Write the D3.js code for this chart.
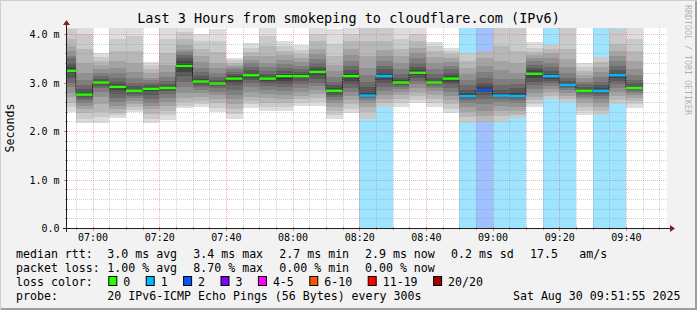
<!DOCTYPE html>
<html>
<head>
<meta charset="utf-8">
<script src="https://cdn.jsdelivr.net/npm/d3@7"></script>
<style>
  html, body { margin: 0; padding: 0; background: #f2f2f2; }
  svg { display: block; }
  text { font-family: "DejaVu Sans Mono", monospace; fill: #000; }
</style>
</head>
<body>
<div id="chart"></div>
<script>
// ---- data ----
const day = "2025-08-30";
const barStarts = ["06:50","06:55","07:00","07:05","07:10","07:15","07:20","07:25","07:30","07:35",
                   "07:40","07:45","07:50","07:55","08:00","08:05","08:10","08:15","08:20","08:25",
                   "08:30","08:35","08:40","08:45","08:50","08:55","09:00","09:05","09:10","09:15",
                   "09:20","09:25","09:30","09:35","09:40"];
const medians = [3.24,2.75,3.00,2.91,2.83,2.87,2.89,3.34,3.02,2.98,
                 3.08,3.15,3.08,3.13,3.13,3.22,2.83,3.13,2.73,3.13,
                 3.00,3.20,3.00,3.08,2.72,2.84,2.73,2.72,3.18,3.13,
                 2.95,2.83,2.83,3.15,2.89];
const lossCounts = [0,0,0,0,0,0,0,0,0,0,
                    0,0,0,0,0,0,0,0,1,1,
                    0,0,0,0,1,2,1,1,0,1,
                    1,0,1,1,0];
// 20 sorted pings per 5 minute step (ms), lost pings as null
const pings = [
  [2.39,2.5,2.58,2.7,2.79,2.9,3.0,3.1,3.18,3.22,3.26,3.31,3.4,3.5,3.55,3.65,3.75,3.9,4.1,4.3],
  [2.16,2.25,2.38,2.45,2.52,2.58,2.64,2.68,2.72,2.74,2.76,2.8,2.86,2.95,3.05,3.2,3.41,3.7,4.0,4.3],
  [2.17,2.28,2.4,2.55,2.7,2.8,2.88,2.93,2.97,2.99,3.01,3.04,3.08,3.13,3.2,3.28,3.36,3.44,3.52,3.6],
  [2.26,2.32,2.38,2.45,2.52,2.6,2.68,2.76,2.84,2.89,2.93,2.97,3.02,3.1,3.2,3.3,3.44,3.65,3.9,4.2],
  [2.39,2.44,2.5,2.56,2.62,2.68,2.73,2.77,2.8,2.82,2.84,2.87,2.92,3.0,3.1,3.22,3.41,3.65,3.95,4.2],
  [2.16,2.25,2.35,2.45,2.52,2.58,2.66,2.74,2.82,2.86,2.88,2.91,2.95,3.0,3.05,3.1,3.2,3.28,3.36,3.43],
  [2.23,2.32,2.42,2.52,2.6,2.68,2.76,2.82,2.86,2.88,2.9,2.93,2.97,3.04,3.12,3.22,3.37,3.6,3.9,4.2],
  [2.47,2.52,2.6,2.68,2.78,2.9,3.02,3.13,3.22,3.3,3.38,3.44,3.5,3.56,3.62,3.67,3.78,3.9,4.05,4.2],
  [2.5,2.55,2.62,2.7,2.78,2.85,2.9,2.95,2.98,3.0,3.04,3.08,3.14,3.22,3.3,3.42,3.55,3.7,3.85,4.01],
  [2.39,2.48,2.57,2.66,2.74,2.81,2.88,2.93,2.96,2.97,2.99,3.02,3.06,3.12,3.2,3.3,3.41,3.62,3.85,4.1],
  [2.25,2.35,2.45,2.55,2.65,2.75,2.85,2.95,3.02,3.06,3.1,3.14,3.18,3.22,3.27,3.32,3.36,3.41,3.46,3.51],
  [2.48,2.55,2.62,2.7,2.8,2.9,2.98,3.05,3.1,3.13,3.17,3.2,3.25,3.32,3.4,3.47,3.55,3.63,3.72,3.81],
  [2.41,2.5,2.58,2.68,2.76,2.84,2.92,2.98,3.04,3.07,3.09,3.12,3.17,3.24,3.32,3.41,3.55,3.75,3.95,4.2],
  [2.42,2.5,2.58,2.66,2.74,2.82,2.9,2.97,3.03,3.08,3.14,3.18,3.24,3.3,3.38,3.46,3.56,3.66,3.76,3.85],
  [2.52,2.58,2.65,2.72,2.8,2.88,2.96,3.03,3.09,3.12,3.14,3.17,3.22,3.28,3.35,3.43,3.51,3.58,3.67,3.77],
  [2.52,2.6,2.68,2.76,2.84,2.92,3.0,3.08,3.15,3.2,3.24,3.28,3.33,3.4,3.48,3.58,3.7,3.85,4.0,4.2],
  [2.25,2.34,2.42,2.5,2.57,2.64,2.7,2.75,2.79,2.82,2.84,2.88,2.94,3.02,3.12,3.24,3.36,3.55,3.8,4.1],
  [2.38,2.46,2.55,2.64,2.72,2.8,2.88,2.96,3.04,3.1,3.15,3.2,3.26,3.34,3.44,3.56,3.7,3.85,4.0,4.2],
  [2.2,2.24,2.4,2.5,2.58,2.64,2.68,2.7,2.72,2.73,2.75,2.8,2.9,3.02,3.15,3.3,3.55,3.85,4.2,null],
  [2.45,2.49,2.58,2.66,2.74,2.82,2.9,2.98,3.06,3.12,3.15,3.2,3.27,3.35,3.45,3.55,3.68,3.85,4.2,null],
  [2.5,2.58,2.66,2.74,2.8,2.86,2.91,2.95,2.98,2.99,3.01,3.05,3.1,3.18,3.28,3.41,3.55,3.7,3.9,4.2],
  [2.57,2.64,2.72,2.8,2.88,2.96,3.04,3.1,3.15,3.18,3.22,3.26,3.32,3.4,3.5,3.6,3.72,3.85,4.0,4.2],
  [2.5,2.58,2.66,2.74,2.82,2.88,2.93,2.96,2.98,2.99,3.01,3.04,3.1,3.18,3.28,3.4,3.52,3.65,3.75,3.84],
  [2.38,2.46,2.55,2.64,2.72,2.8,2.88,2.96,3.02,3.06,3.1,3.14,3.2,3.27,3.34,3.42,3.5,3.58,3.65,3.72],
  [2.1,2.17,2.28,2.4,2.5,2.58,2.64,2.68,2.7,2.71,2.73,2.78,2.85,2.95,3.05,3.18,3.3,3.45,3.6,null],
  [2.1,2.15,2.19,2.3,2.42,2.55,2.66,2.75,2.8,2.83,2.86,2.92,3.0,3.1,3.22,3.35,3.5,3.65,null,null],
  [2.1,2.19,2.3,2.42,2.52,2.6,2.66,2.7,2.72,2.73,2.74,2.78,2.85,2.95,3.08,3.25,3.45,3.75,4.2,null],
  [2.2,2.26,2.34,2.42,2.5,2.58,2.64,2.68,2.7,2.72,2.74,2.8,2.88,2.97,3.07,3.2,3.4,3.65,4.2,null],
  [2.5,2.56,2.63,2.7,2.78,2.86,2.94,3.02,3.1,3.16,3.2,3.25,3.3,3.37,3.44,3.5,3.56,3.63,3.72,3.84],
  [2.6,2.65,2.72,2.8,2.86,2.92,2.98,3.03,3.08,3.12,3.14,3.18,3.24,3.32,3.4,3.5,3.6,3.7,3.77,null],
  [2.55,2.6,2.66,2.72,2.78,2.84,2.88,2.91,2.93,2.94,2.96,2.99,3.04,3.1,3.2,3.32,3.48,3.7,4.2,null],
  [2.34,2.42,2.5,2.58,2.65,2.7,2.74,2.78,2.8,2.82,2.84,2.87,2.91,2.96,3.02,3.09,3.16,3.23,3.32,3.41],
  [2.28,2.33,2.42,2.5,2.58,2.65,2.72,2.77,2.8,2.82,2.84,2.88,2.94,3.02,3.12,3.22,3.32,3.42,3.52,null],
  [2.5,2.56,2.64,2.72,2.8,2.88,2.96,3.04,3.1,3.14,3.16,3.2,3.26,3.34,3.44,3.54,3.65,3.8,4.1,null],
  [2.48,2.55,2.62,2.68,2.74,2.79,2.83,2.86,2.88,2.89,2.9,2.93,2.98,3.05,3.15,3.28,3.45,3.65,3.9,4.15]
];

const lossLabels = ["0","1","2","3","4-5","6-10","11-19","20/20"];
const lossColors = ["#26ff00","#00b8ff","#0059ff","#7e00ff","#ff00ff","#ff5500","#ff0000","#a10000"];
const lossUpper  = [0,1,2,3,5,10,19,20];

const yTicks = [0,1,2,3,4];
const yTickLabels = ["0.0","1.0 m","2.0 m","3.0 m","4.0 m"];
const xTickLabels = ["07:00","07:20","07:40","08:00","08:20","08:40","09:00","09:20","09:40"];

const rttStats  = ["3.0 ms avg","3.4 ms max","2.7 ms min","2.9 ms now","0.2 ms sd"];
const lossStats = ["1.00 % avg","8.70 % max","0.00 % min","0.00 % now"];
const amsValue = "17.5", amsUnit = "am/s";
const titleText = "Last 3 Hours from smokeping to cloudflare.com (IPv6)";
const probeText = "20 IPv6-ICMP Echo Pings (56 Bytes) every 300s";
const stampText = "Sat Aug 30 09:51:55 2025";
const graphStart = "06:52:20", graphEnd = "09:52:20";

// ---- layout ----
const W = 697, H = 310;
const plot = { left: 67, right: 667, top: 28, bottom: 228 };
const legendFont = 11.6, axisFont = 10, titleFont = 13.5;

const parse = d3.timeParse("%Y-%m-%d %H:%M:%S");
const t = s => parse(`${day} ${s.length === 5 ? s + ":00" : s}`);

const x = d3.scaleTime()
  .domain([t(graphStart), t(graphEnd)])
  .range([plot.left, plot.right]);
const y = d3.scaleLinear()
  .domain([0, 4.124])
  .range([plot.bottom, plot.top]);

const step = 5 * 60 * 1000;
const bars = barStarts.map((s, i) => {
  const t0 = t(s);
  return { t0, t1: new Date(+t0 + step), median: medians[i], loss: lossCounts[i], pings: pings[i] };
});
const lossIndex = n => lossUpper.findIndex(u => n <= u);

const svg = d3.select("#chart").append("svg")
  .attr("width", W).attr("height", H);

// background + shaded frame
svg.append("rect").attr("width", W).attr("height", H).attr("fill", "#f2f2f2");
svg.append("path").attr("d", `M0,${H} V0 H${W}`).attr("fill", "none")
  .attr("stroke", "#cfcfcf").attr("stroke-width", 2);
svg.append("path").attr("d", `M1,${H - 1} H${W - 1} V1`).attr("fill", "none")
  .attr("stroke", "#9e9e9e").attr("stroke-width", 2);

svg.append("defs").append("clipPath").attr("id", "plotclip")
  .append("rect").attr("x", plot.left).attr("y", plot.top)
  .attr("width", plot.right - plot.left).attr("height", plot.bottom - plot.top);

// canvas
svg.append("rect")
  .attr("x", plot.left).attr("y", plot.top)
  .attr("width", plot.right - plot.left).attr("height", plot.bottom - plot.top)
  .attr("fill", "#fff");

const plotG = svg.append("g").attr("clip-path", "url(#plotclip)");

// loss background columns
plotG.append("g").selectAll("rect")
  .data(bars.filter(b => b.loss > 0))
  .join("rect")
    .attr("x", d => x(d.t0)).attr("width", d => x(d.t1) - x(d.t0))
    .attr("y", plot.top).attr("height", plot.bottom - plot.top)
    .attr("fill", d => lossColors[lossIndex(d.loss)])
    .attr("fill-opacity", 0.376)
    .attr("shape-rendering", "crispEdges");

// smoke: layer k spans ping k .. ping 21-k
const half = 10;
const smokeG = plotG.append("g").attr("shape-rendering", "crispEdges");
bars.forEach(b => {
  for (let k = 1; k <= half; k++) {
    const lo = b.pings[k - 1], hi = b.pings[20 - k];
    if (lo == null || hi == null) continue;
    const c = Math.floor(190 / half * (half - k)) + 50;
    smokeG.append("rect")
      .attr("x", x(b.t0)).attr("width", x(b.t1) - x(b.t0))
      .attr("y", y(hi)).attr("height", y(lo) - y(hi))
      .attr("fill", d3.rgb(c, c, c));
  }
});

// grid
const gridG = svg.append("g");
const minorTimes = d3.timeMinute.every(5).range(t(graphStart), t(graphEnd));
const majorSet = new Set(xTickLabels);
const fmt = d3.timeFormat("%H:%M");
gridG.selectAll(".vminor")
  .data(minorTimes.filter(d => !majorSet.has(fmt(d))))
  .join("line")
    .attr("x1", d => Math.round(x(d)) + 0.5).attr("x2", d => Math.round(x(d)) + 0.5)
    .attr("y1", plot.top).attr("y2", plot.bottom)
    .attr("stroke", "rgba(143,143,143,0.42)").attr("stroke-dasharray", "1,1");
const yMinor = d3.range(1, 21).map(i => i * 0.2).filter(v => Math.abs(v - Math.round(v)) > 1e-6);
gridG.selectAll(".hminor")
  .data(yMinor)
  .join("line")
    .attr("x1", plot.left).attr("x2", plot.right)
    .attr("y1", d => Math.round(y(d)) + 0.5).attr("y2", d => Math.round(y(d)) + 0.5)
    .attr("stroke", "rgba(143,143,143,0.42)").attr("stroke-dasharray", "1,1");
const xMajorTimes = xTickLabels.map(s => t(s));
gridG.selectAll(".vmajor")
  .data(xMajorTimes)
  .join("line")
    .attr("x1", d => Math.round(x(d)) + 0.5).attr("x2", d => Math.round(x(d)) + 0.5)
    .attr("y1", plot.top).attr("y2", plot.bottom)
    .attr("stroke", "rgba(222,79,79,0.42)").attr("stroke-dasharray", "1,1");
gridG.selectAll(".hmajor")
  .data(yTicks.filter(v => v > 0))
  .join("line")
    .attr("x1", plot.left).attr("x2", plot.right)
    .attr("y1", d => Math.round(y(d)) + 0.5).attr("y2", d => Math.round(y(d)) + 0.5)
    .attr("stroke", "rgba(222,79,79,0.42)").attr("stroke-dasharray", "1,1");

// median: dotted step connector then loss-coloured bands
const stepPts = bars.map(b => [b.t0, b.median]).concat([[bars[bars.length - 1].t1, medians[medians.length - 1]]]);
plotG.append("path")
  .datum(stepPts)
  .attr("d", d3.line().x(d => x(d[0])).y(d => y(d[1])).curve(d3.curveStepAfter))
  .attr("fill", "none").attr("stroke", "#000").attr("stroke-width", 1)
  .attr("stroke-dasharray", "1,1");
plotG.append("g").selectAll("rect")
  .data(bars)
  .join("rect")
    .attr("x", d => x(d.t0)).attr("width", d => x(d.t1) - x(d.t0))
    .attr("y", d => y(d.median) - 1.2).attr("height", 2.4)
    .attr("fill", d => lossColors[lossIndex(d.loss)]);

// axes
const xAxis = d3.axisBottom(x).tickValues(xMajorTimes).tickFormat(fmt).tickSize(0);
svg.append("g")
  .attr("transform", `translate(0,${plot.bottom})`)
  .call(xAxis)
  .call(g => g.select(".domain").remove())
  .call(g => g.selectAll("text").attr("y", 13).attr("dy", null)
    .attr("font-size", axisFont).attr("font-family", "DejaVu Sans Mono").attr("fill", "#000"));

const yAxis = d3.axisLeft(y).tickValues(yTicks).tickFormat((d, i) => yTickLabels[i]).tickSize(0);
svg.append("g")
  .attr("transform", `translate(${plot.left},0)`)
  .call(yAxis)
  .call(g => g.select(".domain").remove())
  .call(g => g.selectAll("text").attr("x", -7.5).attr("dy", "0.36em")
    .attr("font-size", axisFont).attr("font-family", "DejaVu Sans Mono").attr("fill", "#000"));

// axis ticks
const tickG = svg.append("g").attr("shape-rendering", "crispEdges");
tickG.selectAll(".xt").data(minorTimes).join("line")
  .attr("x1", d => Math.round(x(d)) + 0.5).attr("x2", d => Math.round(x(d)) + 0.5)
  .attr("y1", plot.bottom - 1).attr("y2", d => plot.bottom + (majorSet.has(fmt(d)) ? 3 : 2))
  .attr("stroke", d => majorSet.has(fmt(d)) ? "rgba(222,79,79,0.7)" : "rgba(143,143,143,0.8)");
tickG.selectAll(".yt").data(d3.range(0, 21).map(i => i * 0.2)).join("line")
  .attr("y1", d => Math.round(y(d)) + 0.5).attr("y2", d => Math.round(y(d)) + 0.5)
  .attr("x1", d => plot.left - (Math.abs(d - Math.round(d)) < 1e-6 ? 3 : 2)).attr("x2", plot.left + 1)
  .attr("stroke", d => Math.abs(d - Math.round(d)) < 1e-6 ? "rgba(222,79,79,0.7)" : "rgba(143,143,143,0.8)");

// axis lines with arrows
svg.append("line").attr("x1", plot.left - 4).attr("x2", plot.right + 4)
  .attr("y1", plot.bottom + 0.5).attr("y2", plot.bottom + 0.5)
  .attr("stroke", "#1f1f1f").attr("stroke-width", 1);
svg.append("line").attr("x1", plot.left - 0.5).attr("x2", plot.left - 0.5)
  .attr("y1", plot.bottom + 4).attr("y2", plot.top - 4)
  .attr("stroke", "#1f1f1f").attr("stroke-width", 1);
svg.append("path")
  .attr("d", `M${plot.right + 3},${plot.bottom - 3} L${plot.right + 8},${plot.bottom + 0.5} L${plot.right + 3},${plot.bottom + 4} Z`)
  .attr("fill", "#801f1f");
svg.append("path")
  .attr("d", `M${plot.left - 4},${plot.top - 3} L${plot.left - 0.5},${plot.top - 8} L${plot.left + 3},${plot.top - 3} Z`)
  .attr("fill", "#801f1f");

// title, unit, watermark
svg.append("text").attr("x", W / 2).attr("y", 22.5).attr("text-anchor", "middle")
  .attr("font-size", titleFont).text(titleText);
svg.append("text").attr("transform", `translate(14,${(plot.top + plot.bottom) / 2}) rotate(-90)`)
  .attr("text-anchor", "middle").attr("font-size", legendFont).text("Seconds");
svg.append("text").attr("transform", `translate(685,5) rotate(90)`)
  .attr("font-size", 8.3).attr("fill", "#000").attr("fill-opacity", 0.3)
  .style("fill", "#000").style("fill-opacity", 0.3)
  .text("RRDTOOL / TOBI OETIKER");

// legend
const lg = svg.append("g").attr("font-size", legendFont).attr("xml:space", "preserve");
const rowY = [258.3, 272, 286, 300];
const statX = [107.3, 193.3, 279.3, 365, 451];
lg.append("text").attr("x", 16).attr("y", rowY[0]).text("median rtt:");
rttStats.forEach((s, i) => lg.append("text").attr("x", statX[i]).attr("y", rowY[0]).text(s));
lg.append("text").attr("x", 530).attr("y", rowY[0]).text(amsValue);
lg.append("text").attr("x", 579.3).attr("y", rowY[0]).text(amsUnit);

lg.append("text").attr("x", 16).attr("y", rowY[1]).text("packet loss:");
lossStats.forEach((s, i) => lg.append("text").attr("x", statX[i]).attr("y", rowY[1]).text(s));

lg.append("text").attr("x", 16).attr("y", rowY[2]).text("loss color:");
let bx = 108.3;
lossLabels.forEach((lab, i) => {
  lg.append("rect").attr("x", bx + 0.5).attr("y", rowY[2] - 9.5).attr("width", 8).attr("height", 9)
    .attr("fill", lossColors[i]).attr("stroke", "#000").attr("stroke-width", 1);
  lg.append("text").attr("x", bx + 15).attr("y", rowY[2]).text(lab);
  bx = bx + 15 + lab.length * 7.0 + 15.4;
});

lg.append("text").attr("x", 16).attr("y", rowY[3]).text("probe:");
lg.append("text").attr("x", statX[0]).attr("y", rowY[3]).text(probeText);
lg.append("text").attr("x", 680.5).attr("y", rowY[3]).attr("text-anchor", "end").text(stampText);
</script>
</body>
</html>
